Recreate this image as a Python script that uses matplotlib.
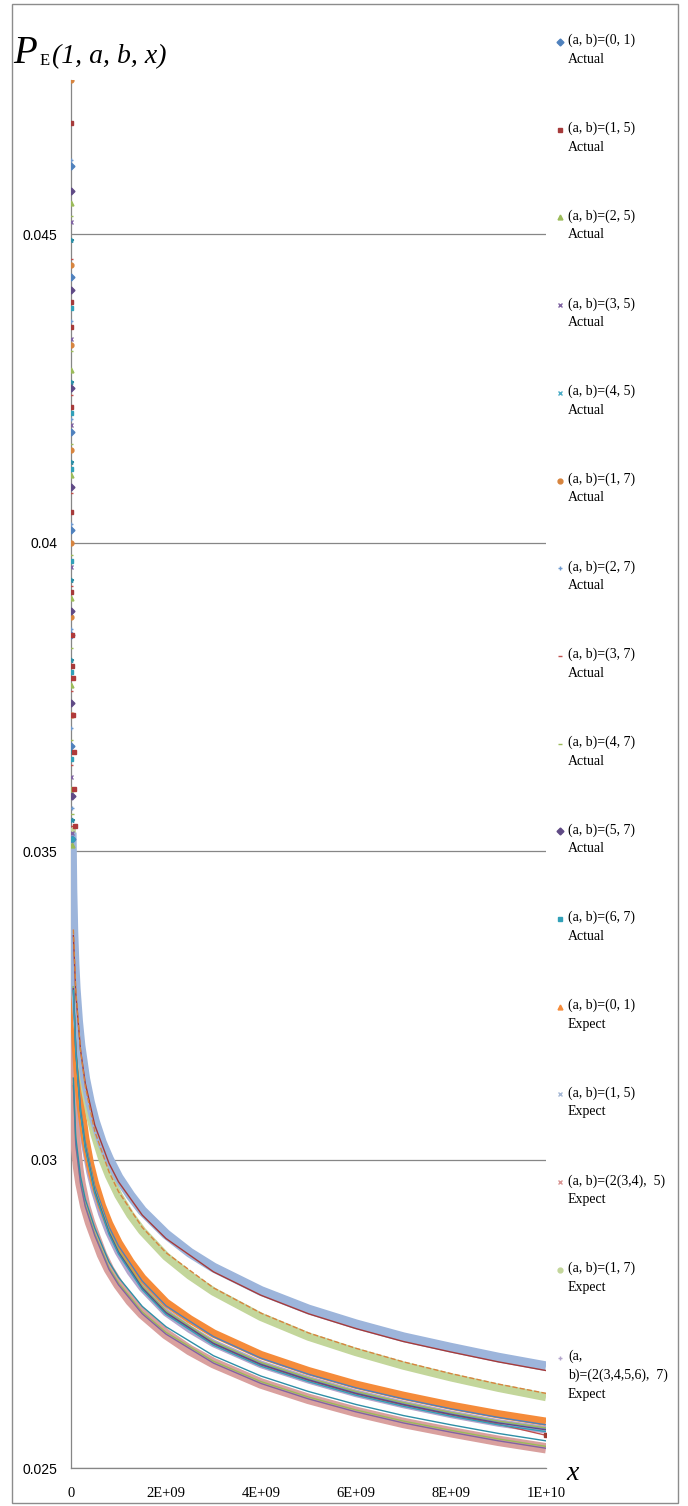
import matplotlib
matplotlib.use("Agg")
import matplotlib.pyplot as plt
import numpy as np
from matplotlib.lines import Line2D
from matplotlib.patches import Rectangle

# x positions, in units of 1e9
x_expect = [0.015, 0.03, 0.05, 0.075, 0.1, 0.15, 0.2, 0.3, 0.4, 0.5, 0.65, 0.8, 1,
            1.25, 1.5, 2, 2.5, 3, 4, 5, 6, 7, 8, 9, 10]
x_actual = [0.05, 0.1, 0.2, 0.3, 0.5, 0.8, 1, 1.5, 2, 3, 4, 5, 6, 7, 8, 9, 10]
x_column = [0.0002, 0.0005, 0.001, 0.002, 0.005, 0.01, 0.02]

# Expect series (thick bands)
exp_1_5 = [0.0353, 0.03438, 0.0337, 0.03316, 0.03277, 0.03224, 0.03185, 0.03131, 0.03093,
           0.03063, 0.03028, 0.03001, 0.02971, 0.02942, 0.02917, 0.02879, 0.02849, 0.02825,
           0.02787, 0.02757, 0.02733, 0.02712, 0.02695, 0.02679, 0.02665]
exp_1_7 = [0.03538, 0.0344, 0.03367, 0.0331, 0.03269, 0.03211, 0.03171, 0.03113, 0.03072,
           0.0304, 0.03003, 0.02974, 0.02942, 0.0291, 0.02884, 0.02843, 0.02812, 0.02786,
           0.02745, 0.02713, 0.02688, 0.02666, 0.02647, 0.0263, 0.02615]
exp_0_1 = [0.03453, 0.03356, 0.03285, 0.03228, 0.03188, 0.03131, 0.0309, 0.03034, 0.02993,
           0.02962, 0.02925, 0.02896, 0.02865, 0.02834, 0.02808, 0.02768, 0.02741, 0.02718,
           0.02683, 0.02657, 0.02635, 0.02617, 0.02601, 0.02587, 0.02575]
exp_23456_7 = [0.03448, 0.03349, 0.03277, 0.03219, 0.03178, 0.03121, 0.03079, 0.03022, 0.0298,
               0.02949, 0.02912, 0.02882, 0.0285, 0.02818, 0.02792, 0.02752, 0.02725, 0.02702,
               0.02668, 0.02643, 0.02621, 0.02603, 0.02587, 0.02573, 0.02562]
exp_234_5 = [0.034, 0.0322, 0.0312, 0.0306, 0.03024, 0.02987, 0.02961, 0.02924, 0.02898,
             0.02877, 0.02846, 0.02822, 0.02797, 0.02771, 0.0275, 0.02717, 0.02691, 0.0267,
             0.02637, 0.02612, 0.02591, 0.02573, 0.02558, 0.02544, 0.02532]

# Actual series, along the curves
act_0_1 = [0.0328, 0.03183, 0.03085, 0.03029, 0.02957, 0.02891, 0.0286, 0.02803, 0.02763,
           0.02713, 0.02678, 0.02652, 0.0263, 0.02612, 0.02596, 0.02582, 0.0257]
act_1_5 = [0.03363, 0.0327, 0.03178, 0.03124, 0.03056, 0.02994, 0.02964, 0.0291, 0.02872,
           0.02818, 0.0278, 0.0275, 0.02726, 0.02705, 0.02688, 0.02672, 0.02658]
act_2_5 = [0.03123, 0.03027, 0.02964, 0.02927, 0.0288, 0.02825, 0.028, 0.02753, 0.0272,
           0.02673, 0.0264, 0.02615, 0.02594, 0.02576, 0.02561, 0.02547, 0.02535]
act_3_5 = [0.0312, 0.03024, 0.02961, 0.02924, 0.02877, 0.02822, 0.02797, 0.0275, 0.02717,
           0.0267, 0.02637, 0.02612, 0.02591, 0.02573, 0.02558, 0.02544, 0.02532]
act_4_5 = [0.03132, 0.03036, 0.02973, 0.02936, 0.02889, 0.02834, 0.02809, 0.02762, 0.02729,
           0.02682, 0.02649, 0.02624, 0.02603, 0.02585, 0.0257, 0.02556, 0.02544]
act_1_7 = [0.03373, 0.03275, 0.03177, 0.03119, 0.03046, 0.0298, 0.02948, 0.0289, 0.02849,
           0.02792, 0.02751, 0.02719, 0.02694, 0.02672, 0.02653, 0.02636, 0.02621]
act_2_7 = [0.03279, 0.0318, 0.03081, 0.03024, 0.02951, 0.02884, 0.02852, 0.02794, 0.02754,
           0.02704, 0.0267, 0.02645, 0.02623, 0.02605, 0.02589, 0.02575, 0.02564]
act_3_7 = [0.03276, 0.03177, 0.03078, 0.03021, 0.02948, 0.02881, 0.02849, 0.02791, 0.02751,
           0.02701, 0.02667, 0.02642, 0.0262, 0.02602, 0.02586, 0.02571, 0.02553]
act_4_7 = [0.0328, 0.03181, 0.03082, 0.03025, 0.02952, 0.02885, 0.02853, 0.02795, 0.02755,
           0.02705, 0.02671, 0.02646, 0.02624, 0.02606, 0.0259, 0.02576, 0.02565]
act_5_7 = [0.03277, 0.03178, 0.03079, 0.03022, 0.02949, 0.02882, 0.0285, 0.02792, 0.02752,
           0.02702, 0.02668, 0.02643, 0.02621, 0.02603, 0.02587, 0.02573, 0.02562]
act_6_7 = [0.03274, 0.03175, 0.03076, 0.03019, 0.02946, 0.02879, 0.02847, 0.02789, 0.02749,
           0.02699, 0.02665, 0.0264, 0.02618, 0.026, 0.02584, 0.0257, 0.02559]

# Actual series, the scattered points near x = 0
col_0_1 = [0.0461, 0.0443, 0.0418, 0.0402, 0.0385, 0.0367, 0.0352]
col_1_5 = [0.0468, 0.0439, 0.0435, 0.0422, 0.0405, 0.0392, 0.038]
col_2_5 = [0.0455, 0.0428, 0.0411, 0.0391, 0.0377, 0.036, 0.0351]
col_3_5 = [0.0452, 0.0433, 0.0419, 0.0396, 0.0378, 0.0362, 0.0353]
col_4_5 = [0.0449, 0.0426, 0.0413, 0.0394, 0.0381, 0.0366, 0.0355]
col_1_7 = [0.0475, 0.0445, 0.0432, 0.0415, 0.04, 0.0388, 0.0372]
col_2_7 = [0.0462, 0.0436, 0.042, 0.0403, 0.0386, 0.037, 0.0357]
col_3_7 = [0.0446, 0.0424, 0.0408, 0.0393, 0.0376, 0.0364, 0.0354]
col_4_7 = [0.0453, 0.0431, 0.0416, 0.0398, 0.0383, 0.0368, 0.0356]
col_5_7 = [0.0457, 0.0441, 0.0425, 0.0409, 0.0389, 0.0374, 0.0359]
col_6_7 = [0.0438, 0.0421, 0.0412, 0.0397, 0.0379, 0.0365, 0.0352]
# red points slightly to the right of the column
x_red_extra = [0.03, 0.04, 0.05, 0.06, 0.07, 0.08]
y_red_extra = [0.0385, 0.0378, 0.0372, 0.0366, 0.036, 0.0354]

y_ticks = [0.025, 0.03, 0.035, 0.04, 0.045]
y_tick_labels = ["0.025", "0.03", "0.035", "0.04", "0.045"]
x_ticks = [0, 2e9, 4e9, 6e9, 8e9, 1e10]
x_tick_labels = ["0", "2E+09", "4E+09", "6E+09", "8E+09", "1E+10"]

W, H = 688, 1506
fig = plt.figure(figsize=(W / 100, H / 100), dpi=100)
fig.patch.set_facecolor("white")

def fx(px):
    return px / W

def fy(py):
    return 1 - py / H

ax = fig.add_axes([fx(71), fy(1468), fx(546) - fx(71), fy(80) - fy(1468)])
grid_c = "#868686"

xe = np.array(x_expect) * 1e9
xa = np.array(x_actual) * 1e9
xc = np.array(x_column) * 1e9

# expect bands
bands = [
    (exp_234_5, "#D9A09E", 7.5),
    (exp_23456_7, "#B3A5CC", 5.5),
    (exp_0_1, "#F58B3A", 6.0),
    (exp_1_7, "#C3D69B", 6.0),
    (exp_1_5, "#9DB5DB", 7.0),
]
for ys, c, lw in bands:
    ax.plot(xe, ys, color=c, lw=lw, solid_capstyle="butt", solid_joinstyle="round", zorder=3)

actual = [
    (act_0_1, col_0_1, "#4F81BD", "D", "-"),
    (act_1_5, col_1_5, "#A63A3A", "s", "-"),
    (act_2_5, col_2_5, "#9BBB59", "^", "-"),
    (act_3_5, col_3_5, "#8064A2", "x", "-"),
    (act_4_5, col_4_5, "#2E8FA6", "*", "-"),
    (act_1_7, col_1_7, "#D7843E", "o", "--"),
    (act_2_7, col_2_7, "#6F9AD0", "+", "-"),
    (act_3_7, col_3_7, "#C0504D", "_", "-"),
    (act_4_7, col_4_7, "#9BBB59", "_", "-"),
    (act_5_7, col_5_7, "#5F4A85", "D", "-"),
    (act_6_7, col_6_7, "#31A0B8", "s", "-"),
]
for ys, cols, c, m, ls in actual:
    ax.plot(xa, ys, color=c, lw=1.0, ls=ls, zorder=4)
    ax.plot(xc, cols, color=c, marker=m, ms=3.5, ls="none", mew=1.0, zorder=5)
ax.plot(np.array(x_red_extra) * 1e9, y_red_extra, color="#B03A3A", marker="s",
        ms=3.5, ls="none", zorder=5)
ax.plot([xa[-1]], [act_3_7[-1]], color="#A03A30", marker="s", ms=3.5, zorder=6)

ax.set_xlim(0, 1e10)
ax.set_ylim(0.025, 0.0475)
ax.set_yticks(y_ticks)
ax.set_yticklabels(y_tick_labels, family="Liberation Sans", fontsize=10)
ax.set_xticks(x_ticks)
ax.set_xticklabels(x_tick_labels, family="Liberation Serif", fontsize=10.5)
ax.tick_params(axis="y", length=0, pad=10)
ax.tick_params(axis="x", length=0, pad=14)
ax.yaxis.grid(True, color=grid_c, lw=0.9)
ax.set_axisbelow(True)
for s in ["top", "right"]:
    ax.spines[s].set_visible(False)
for s in ["left", "bottom"]:
    ax.spines[s].set_color(grid_c)
    ax.spines[s].set_linewidth(0.9)

# title and x label
serif_it = dict(family="Liberation Serif", style="italic", va="baseline")
fig.text(fx(13), fy(63), "P", fontsize=28, **serif_it)
fig.text(fx(40), fy(65), "E", fontsize=12, family="Liberation Serif", va="baseline")
fig.text(fx(52), fy(63), "(1, a, b, x)", fontsize=20, **serif_it)
fig.text(fx(566), fy(1480), "x", fontsize=20, **serif_it)

# legend drawn entry by entry
legend_items = [
    ("(a, b)=(0, 1)\nActual", "#4F81BD", "D"),
    ("(a, b)=(1, 5)\nActual", "#A63A3A", "s"),
    ("(a, b)=(2, 5)\nActual", "#9BBB59", "^"),
    ("(a, b)=(3, 5)\nActual", "#8064A2", "x"),
    ("(a, b)=(4, 5)\nActual", "#4BACC6", "x"),
    ("(a, b)=(1, 7)\nActual", "#D7843E", "o"),
    ("(a, b)=(2, 7)\nActual", "#6F9AD0", "+"),
    ("(a, b)=(3, 7)\nActual", "#C0504D", "_"),
    ("(a, b)=(4, 7)\nActual", "#9BBB59", "_"),
    ("(a, b)=(5, 7)\nActual", "#5F4A85", "D"),
    ("(a, b)=(6, 7)\nActual", "#31A0B8", "s"),
    ("(a, b)=(0, 1)\nExpect", "#F58B3A", "^"),
    ("(a, b)=(1, 5)\nExpect", "#A6B9D6", "x"),
    ("(a, b)=(2(3,4),  5)\nExpect", "#D99694", "x"),
    ("(a, b)=(1, 7)\nExpect", "#C3D69B", "o"),
    ("(a,\nb)=(2(3,4,5,6),  7)\nExpect", "#B3A5CC", "+"),
]
for i, (lab, c, m) in enumerate(legend_items):
    yl = 42 + i * 87.7
    fig.add_artist(Line2D([fx(560)], [fy(yl)], marker=m, color=c, ms=3.5,
                          mew=1.0, ls="none", transform=fig.transFigure))
    fig.text(fx(568), fy(yl - 8), lab, family="Liberation Serif", fontsize=10,
             va="top", ha="left", linespacing=1.55)

fig.add_artist(Rectangle((fx(12), fy(1503)), fx(678) - fx(12), fy(4) - fy(1503),
                         fill=False, edgecolor="#8C8C8C", lw=1.0,
                         transform=fig.transFigure))

fig.savefig("out.png", dpi=100, facecolor="white")
